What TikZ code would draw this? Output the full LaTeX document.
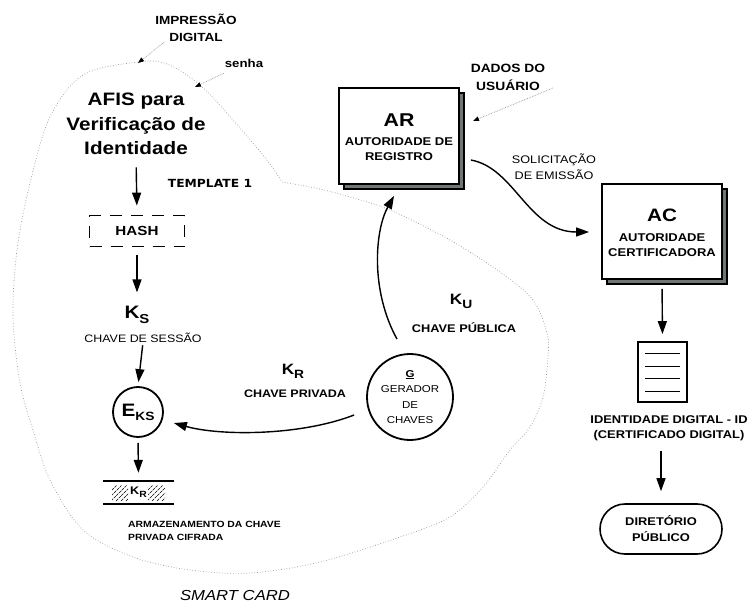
\documentclass[tikz,border=0pt]{standalone}
\usepackage{fontspec}
\setmainfont{Liberation Sans}[FakeStretch=1.15]
\newfontfamily\tplfont{DejaVu Sans}[FakeStretch=1.1]
\usetikzlibrary{arrows.meta,calc}
\newcommand\setfs[2]{\fontsize{#1}{#2}\selectfont}
\definecolor{shadowgray}{RGB}{112,117,117}
\definecolor{cardline}{RGB}{150,150,150}

\begin{document}
\begin{tikzpicture}[x=1pt,y=-1pt,
  lbl/.style={inner sep=0pt, align=center, anchor=base},
  bx/.style={draw, line width=1.8pt, fill=white, inner sep=0pt},
  arr/.style={line width=1.4pt, -{Triangle[length=13pt,width=9pt]}},
  ptr/.style={cardline, line width=0.7pt, densely dotted,
              -{Triangle[length=6pt,width=4.5pt,color=black]}},
  card/.style={cardline, line width=0.7pt, dotted},
  hatch/.style={line width=0.45pt, densely dashed, dash pattern=on 3pt off 0.8pt},
]
\useasboundingbox (0,0) rectangle (749,604);

% smart card outline
\draw[card] plot[smooth, tension=0.55] coordinates {
  (282,182) (320,189) (350,197) (390,210) (450,240) (500,272) (533,300)
  (547,333) (548,357) (543,397) (530,427) (510,450) (483,487) (450,517)
  (400,537) (320,562) (250,573) (190,570) (133,557) (83,530) (50,480)
  (33,430) (20,383) (13,317) (17,250) (30,183) (50,117) (83,75) (138,62)
  (167,64) (200,85) (233,120) (267,160) (282,182)};

% inputs of the card (base anchor = last line of a multi-line label)
\node[lbl, font=\setfs{11.8}{17}\bfseries] (imp) at (196,42) {IMPRESSÃO\\DIGITAL};
\node[lbl, font=\setfs{11.5}{12}\bfseries] (senha) at (244,68) {senha};
\coordinate (impto) at (138,63);
\coordinate (senhato) at (195,87);
\draw[ptr] ($(imp.south west)+(9,0)$) -- (impto);
\draw[ptr] ($(senha.south west)+(-1,5)$) -- (senhato);

% AFIS chain
\node[lbl, font=\setfs{18}{24.5}\bfseries] (afis) at (136,155)
  {AFIS para\\Verificação de\\Identidade};
\node[lbl, font=\tplfont\setfs{11.2}{12}\bfseries] (tpl) at (210,188) {TEMPLATE 1};
\node[draw, line width=1.8pt, dash pattern=on 12pt off 9pt, inner sep=0pt,
      minimum width=95pt, minimum height=31pt, font=\setfs{13.2}{14}\bfseries]
      (hash) at (137,231) {HASH};
\node[lbl, font=\setfs{18}{18}\bfseries] (ks) at (137,318)
  {K\raisebox{-5pt}{\setfs{13}{13}S}};
\node[lbl, font=\setfs{10.8}{12}] (sess) at (143,342) {CHAVE DE SESSÃO};
\node[draw, circle, line width=1.8pt, minimum size=50pt, inner sep=0pt,
      font=\setfs{18}{18}\bfseries] (eks) at (138,412)
  {E\raisebox{-4pt}{\setfs{12}{12}KS}};
\node[inner sep=0pt, minimum width=71pt, minimum height=23pt,
      font=\setfs{11}{12}\bfseries] (stor) at (138.5,492.5)
  {K\raisebox{-3pt}{\setfs{9}{9}R}};
\draw[line width=1.5pt] (stor.north west) -- (stor.north east);
\draw[line width=1.5pt] (stor.south west) -- (stor.south east);
\begin{scope}
  \clip (112,485) rectangle (128,501);
  \foreach \i in {0,5,...,35} \draw[hatch] (96+\i,501) -- (112+\i,485);
\end{scope}
\begin{scope}
  \clip (148,485) rectangle (165,501);
  \foreach \i in {0,5,...,40} \draw[hatch] (132+\i,501) -- (148+\i,485);
\end{scope}
\node[lbl, anchor=base west, align=left, font=\setfs{9}{13}\bfseries] (armz)
  at (128,540) {ARMAZENAMENTO DA CHAVE\\PRIVADA CIFRADA};
\node[lbl, font=\setfs{14.5}{15}\itshape] (smart) at (235,600) {SMART CARD};

\draw[arr, shorten <=12pt, shorten >=9pt] (afis.south) -- (hash.north);
\draw[arr, shorten <=8pt, shorten >=13pt] (hash.south) -- (ks.north);
\draw[arr, shorten <=3pt, shorten >=4pt] (sess.south) -- (eks.north);
\draw[arr, shorten <=5pt, shorten >=8pt] (eks.south) -- (stor.north);

% key generator
\node[draw, circle, line width=1.8pt, minimum size=86pt, inner sep=0pt,
      align=center, font=\setfs{10}{15.5}] (gen) at (410,397)
  {\underline{\textbf{G}}\\GERADOR\\DE\\CHAVES};
\node[lbl, font=\setfs{15}{15}\bfseries] (ku) at (461,304)
  {K\raisebox{-4pt}{\setfs{12}{12}U}};
\node[lbl, font=\setfs{11.1}{12}\bfseries] (kupub) at (464,332) {CHAVE PÚBLICA};
\node[lbl, font=\setfs{15}{15}\bfseries] (kr) at (293,374)
  {K\raisebox{-4pt}{\setfs{12}{12}R}};
\node[lbl, font=\setfs{10.9}{12}\bfseries] (krpriv) at (295,397) {CHAVE PRIVADA};

% registration authority
\node[bx, fill=shadowgray, minimum width=120pt, minimum height=96pt] (arsh) at (404,141) {};
\node[bx, minimum width=120pt, minimum height=96pt] (ar) at (399,136) {};
\node[lbl, font=\setfs{18.5}{19}\bfseries] (art) at (399,127) {AR};
\node[lbl, font=\setfs{11.3}{16}\bfseries] (ars) at (399,161) {AUTORIDADE DE\\REGISTRO};
\node[lbl, font=\setfs{12}{18}\bfseries] (dados) at (508,91) {DADOS DO\\USUÁRIO};
\coordinate (dadosfrom) at (553,88);
\coordinate (dadosto) at (473,121);
\draw[ptr] (dadosfrom) -- (dadosto);

% certification authority
\node[bx, fill=shadowgray, minimum width=120pt, minimum height=95pt] (acsh) at (667,236.5) {};
\node[bx, minimum width=120pt, minimum height=95pt] (ac) at (662,231.5) {};
\node[lbl, font=\setfs{18}{19}\bfseries] (act) at (662,222) {AC};
\node[lbl, font=\setfs{11.3}{15}\bfseries] (acs) at (662,256) {AUTORIDADE\\CERTIFICADORA};
\node[lbl, font=\setfs{11}{16}] (solic) at (554,179) {SOLICITAÇÃO\\DE EMISSÃO};

% certificate document
\node[draw, line width=1.8pt, minimum width=49pt, minimum height=60pt, inner sep=0pt]
  (doc) at (662.5,372) {};
\foreach \yy in {353,366,378,391} \draw[line width=1pt] (645,\yy) -- (680,\yy);
\node[lbl, font=\setfs{11.2}{15}\bfseries] (ident) at (669,438)
  {IDENTIDADE DIGITAL - ID\\(CERTIFICADO DIGITAL)};
\node[draw, line width=1.6pt, rounded corners=25pt, minimum width=122pt,
      minimum height=50pt, inner sep=0pt, align=center, font=\setfs{11.2}{16}\bfseries]
  (dir) at (661,529) {DIRETÓRIO\\PÚBLICO};

% flows between the authorities
\draw[arr] ($(ar.east)+(11,24)$) .. controls (515,168) and (528,232) .. ($(ac.west)+(-12,0.5)$);
\draw[arr, shorten <=9pt, shorten >=7pt] (ac.south) -- (doc.north);
\draw[arr, shorten <=10pt, shorten >=12pt] (ident.south -| dir.north) -- (dir.north);
\draw[arr] ($(gen.north)+(-13,-14)$) .. controls (370,290) and (375,230) .. ($(ar.south)+(-5,11)$);
\draw[arr] ($(gen.west)+(-12,18)$) .. controls (300,436) and (220,436) .. ($(eks.east)+(10,11)$);
\end{tikzpicture}
\end{document}
